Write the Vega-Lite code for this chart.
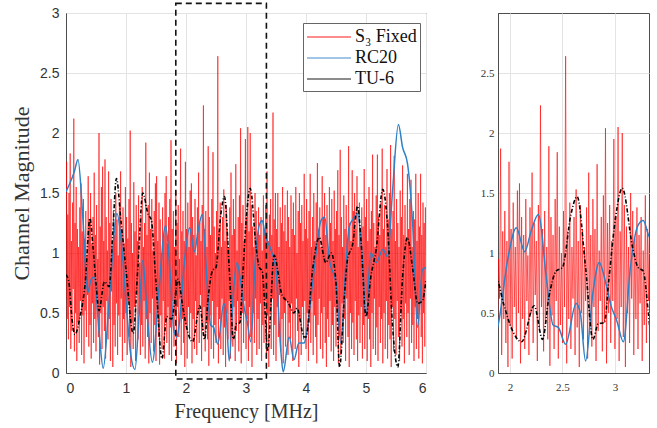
{
"$schema": "https://vega.github.io/schema/vega-lite/v6.json",
"background": "white",
"padding": {"left": 10, "top": 2, "right": 4, "bottom": 4},
"bounds": "flush",
"spacing": 72,
"config": {
  "view": {"stroke": "#4d4d4d", "strokeWidth": 1},
  "axis": {"grid": true, "gridColor": "#e3e3e3", "gridWidth": 1, "domainColor": "#4d4d4d", "ticks": false, "labelFont": "Liberation Sans", "labelColor": "#333333", "titleFont": "Liberation Serif", "titleFontWeight": "normal", "titleColor": "#333333"}
},
"datasets": {
"red": [
{"f":0,"s":0.62},{"f":0.01,"s":1.76},{"f":0.02,"s":0.45},{"f":0.03,"s":1.32},{"f":0.04,"s":0.28},{"f":0.05,"s":1.5},{"f":0.06,"s":0.55},{"f":0.07,"s":1.83},{"f":0.08,"s":0.2},{"f":0.09,"s":1.1},
{"f":0.1,"s":0.35},{"f":0.11,"s":1.42},{"f":0.12,"s":0.7},{"f":0.13,"s":2.12},{"f":0.14,"s":0.18},{"f":0.15,"s":1.25},{"f":0.16,"s":0.5},{"f":0.17,"s":1.55},{"f":0.18,"s":0.1},{"f":0.19,"s":1.2},
{"f":0.2,"s":0.42},{"f":0.21,"s":1.05},{"f":0.22,"s":0.25},{"f":0.23,"s":1.38},{"f":0.24,"s":0.6},{"f":0.25,"s":1.58},{"f":0.26,"s":0.15},{"f":0.27,"s":1.18},{"f":0.28,"s":0.48},{"f":0.29,"s":1.45},
{"f":0.3,"s":0.08},{"f":0.31,"s":1.12},{"f":0.32,"s":0.52},{"f":0.33,"s":1.35},{"f":0.34,"s":0.3},{"f":0.35,"s":0.98},{"f":0.36,"s":0.65},{"f":0.37,"s":1.64},{"f":0.38,"s":0.22},{"f":0.39,"s":1.28},
{"f":0.4,"s":0.4},{"f":0.41,"s":1.5},{"f":0.42,"s":0.12},{"f":0.43,"s":1.08},{"f":0.44,"s":0.58},{"f":0.45,"s":1.3},{"f":0.46,"s":0.25},{"f":0.47,"s":1.67},{"f":0.48,"s":0.45},{"f":0.49,"s":1.15},
{"f":0.5,"s":0.18},{"f":0.51,"s":1.4},{"f":0.52,"s":0.62},{"f":0.53,"s":0.95},{"f":0.54,"s":0.3},{"f":0.55,"s":2.0},{"f":0.56,"s":0.07},{"f":0.57,"s":1.22},{"f":0.58,"s":0.5},{"f":0.59,"s":1.55},
{"f":0.6,"s":0.2},{"f":0.61,"s":1.72},{"f":0.62,"s":0.55},{"f":0.63,"s":1.1},{"f":0.64,"s":0.35},{"f":0.65,"s":1.78},{"f":0.66,"s":0.12},{"f":0.67,"s":1.3},{"f":0.68,"s":0.6},{"f":0.69,"s":1.02},
{"f":0.7,"s":0.28},{"f":0.71,"s":1.68},{"f":0.72,"s":0.45},{"f":0.73,"s":1.25},{"f":0.74,"s":0.1},{"f":0.75,"s":1.45},{"f":0.76,"s":0.68},{"f":0.77,"s":1.05},{"f":0.78,"s":0.05},{"f":0.79,"s":1.35},
{"f":0.8,"s":0.4},{"f":0.81,"s":1.15},{"f":0.82,"s":0.22},{"f":0.83,"s":1.5},{"f":0.84,"s":0.58},{"f":0.85,"s":1.28},{"f":0.86,"s":0.15},{"f":0.87,"s":0.98},{"f":0.88,"s":0.48},{"f":0.89,"s":1.42},
{"f":0.9,"s":0.3},{"f":0.91,"s":1.68},{"f":0.92,"s":0.62},{"f":0.93,"s":1.2},{"f":0.94,"s":0.1},{"f":0.95,"s":1.38},{"f":0.96,"s":0.45},{"f":0.97,"s":1.08},{"f":0.98,"s":0.25},{"f":0.99,"s":1.55},
{"f":1.0,"s":0.5},{"f":1.01,"s":1.3},{"f":1.02,"s":0.15},{"f":1.03,"s":1.12},{"f":1.04,"s":0.6},{"f":1.05,"s":1.45},{"f":1.06,"s":0.3},{"f":1.07,"s":2.02},{"f":1.08,"s":0.05},{"f":1.09,"s":1.25},
{"f":1.1,"s":0.42},{"f":1.11,"s":1.0},{"f":1.12,"s":0.2},{"f":1.13,"s":1.59},{"f":1.14,"s":0.55},{"f":1.15,"s":1.18},{"f":1.16,"s":0.1},{"f":1.17,"s":1.4},{"f":1.18,"s":0.65},{"f":1.19,"s":1.1},
{"f":1.2,"s":0.28},{"f":1.21,"s":1.48},{"f":1.22,"s":0.5},{"f":1.23,"s":0.92},{"f":1.24,"s":0.15},{"f":1.25,"s":1.3},{"f":1.26,"s":0.4},{"f":1.27,"s":1.55},{"f":1.28,"s":0.22},{"f":1.29,"s":1.05},
{"f":1.3,"s":0.6},{"f":1.31,"s":1.25},{"f":1.32,"s":0.12},{"f":1.33,"s":1.92},{"f":1.34,"s":0.45},{"f":1.35,"s":1.15},{"f":1.36,"s":0.3},{"f":1.37,"s":1.4},{"f":1.38,"s":0.08},{"f":1.39,"s":1.67},
{"f":1.4,"s":0.5},{"f":1.41,"s":1.2},{"f":1.42,"s":0.25},{"f":1.43,"s":1.45},{"f":1.44,"s":0.62},{"f":1.45,"s":1.02},{"f":1.46,"s":0.18},{"f":1.47,"s":1.35},{"f":1.48,"s":0.4},{"f":1.49,"s":1.58},
{"f":1.5,"s":0.1},{"f":1.51,"s":1.64},{"f":1.52,"s":0.55},{"f":1.53,"s":1.1},{"f":1.54,"s":0.3},{"f":1.55,"s":1.42},{"f":1.56,"s":0.07},{"f":1.57,"s":1.28},{"f":1.58,"s":0.48},{"f":1.59,"s":1.0},
{"f":1.6,"s":0.2},{"f":1.61,"s":1.38},{"f":1.62,"s":0.6},{"f":1.63,"s":1.15},{"f":1.64,"s":0.12},{"f":1.65,"s":1.5},{"f":1.66,"s":0.42},{"f":1.67,"s":1.64},{"f":1.68,"s":0.25},{"f":1.69,"s":1.08},
{"f":1.7,"s":0.55},{"f":1.71,"s":1.3},{"f":1.72,"s":0.15},{"f":1.73,"s":1.45},{"f":1.74,"s":0.38},{"f":1.75,"s":1.94},{"f":1.76,"s":0.1},{"f":1.77,"s":1.2},{"f":1.78,"s":0.6},{"f":1.79,"s":1.35},
{"f":1.8,"s":0.22},{"f":1.81,"s":1.05},{"f":1.82,"s":0.48},{"f":1.83,"s":1.52},{"f":1.84,"s":0.08},{"f":1.85,"s":1.25},{"f":1.86,"s":0.55},{"f":1.87,"s":1.4},{"f":1.88,"s":0.3},{"f":1.89,"s":0.95},
{"f":1.9,"s":0.62},{"f":1.91,"s":1.87},{"f":1.92,"s":0.15},{"f":1.93,"s":1.18},{"f":1.94,"s":0.45},{"f":1.95,"s":1.35},{"f":1.96,"s":0.25},{"f":1.97,"s":1.1},{"f":1.98,"s":0.05},{"f":1.99,"s":1.76},
{"f":2.0,"s":0.4},{"f":2.01,"s":1.2},{"f":2.02,"s":0.12},{"f":2.03,"s":1.42},{"f":2.04,"s":0.55},{"f":2.05,"s":1.05},{"f":2.06,"s":0.28},{"f":2.07,"s":1.52},{"f":2.08,"s":0.5},{"f":2.09,"s":1.58},
{"f":2.1,"s":0.08},{"f":2.11,"s":1.3},{"f":2.12,"s":0.45},{"f":2.13,"s":1.15},{"f":2.14,"s":0.2},{"f":2.15,"s":1.45},{"f":2.16,"s":0.6},{"f":2.17,"s":0.98},{"f":2.18,"s":0.15},{"f":2.19,"s":1.38},
{"f":2.2,"s":0.5},{"f":2.21,"s":1.67},{"f":2.22,"s":0.25},{"f":2.23,"s":1.25},{"f":2.24,"s":0.65},{"f":2.25,"s":1.1},{"f":2.26,"s":0.1},{"f":2.27,"s":1.4},{"f":2.28,"s":0.35},{"f":2.29,"s":2.23},
{"f":2.3,"s":0.55},{"f":2.31,"s":1.2},{"f":2.32,"s":0.18},{"f":2.33,"s":1.35},{"f":2.34,"s":0.42},{"f":2.35,"s":1.05},{"f":2.36,"s":0.28},{"f":2.37,"s":1.89},{"f":2.38,"s":0.06},{"f":2.39,"s":1.3},
{"f":2.4,"s":0.48},{"f":2.41,"s":1.15},{"f":2.42,"s":0.2},{"f":2.43,"s":1.45},{"f":2.44,"s":0.6},{"f":2.45,"s":1.84},{"f":2.46,"s":0.12},{"f":2.47,"s":1.22},{"f":2.48,"s":0.4},{"f":2.49,"s":1.0},
{"f":2.5,"s":0.25},{"f":2.51,"s":1.35},{"f":2.52,"s":0.55},{"f":2.53,"s":2.64},{"f":2.54,"s":0.08},{"f":2.55,"s":1.18},{"f":2.56,"s":0.45},{"f":2.57,"s":1.42},{"f":2.58,"s":0.2},{"f":2.59,"s":1.05},
{"f":2.6,"s":0.62},{"f":2.61,"s":1.3},{"f":2.62,"s":0.15},{"f":2.63,"s":1.53},{"f":2.64,"s":0.38},{"f":2.65,"s":1.1},{"f":2.66,"s":0.05},{"f":2.67,"s":1.4},{"f":2.68,"s":0.5},{"f":2.69,"s":1.2},
{"f":2.7,"s":0.28},{"f":2.71,"s":1.05},{"f":2.72,"s":0.6},{"f":2.73,"s":1.38},{"f":2.74,"s":0.12},{"f":2.75,"s":1.67},{"f":2.76,"s":0.45},{"f":2.77,"s":1.15},{"f":2.78,"s":0.22},{"f":2.79,"s":1.45},
{"f":2.8,"s":0.55},{"f":2.81,"s":1.2},{"f":2.82,"s":0.1},{"f":2.83,"s":1.74},{"f":2.84,"s":0.35},{"f":2.85,"s":1.02},{"f":2.86,"s":0.6},{"f":2.87,"s":1.3},{"f":2.88,"s":0.18},{"f":2.89,"s":1.48},
{"f":2.9,"s":0.42},{"f":2.91,"s":2.04},{"f":2.92,"s":0.08},{"f":2.93,"s":1.25},{"f":2.94,"s":0.5},{"f":2.95,"s":1.4},{"f":2.96,"s":0.25},{"f":2.97,"s":1.1},{"f":2.98,"s":0.6},{"f":2.99,"s":1.95},
{"f":3.0,"s":0.2},{"f":3.01,"s":1.3},{"f":3.02,"s":0.45},{"f":3.03,"s":2.05},{"f":3.04,"s":0.1},{"f":3.05,"s":1.18},{"f":3.06,"s":0.55},{"f":3.07,"s":2.0},{"f":3.08,"s":0.3},{"f":3.09,"s":1.4},
{"f":3.1,"s":0.05},{"f":3.11,"s":1.22},{"f":3.12,"s":0.5},{"f":3.13,"s":1.05},{"f":3.14,"s":0.25},{"f":3.15,"s":1.5},{"f":3.16,"s":0.62},{"f":3.17,"s":1.35},{"f":3.18,"s":0.15},{"f":3.19,"s":1.12},
{"f":3.2,"s":0.45},{"f":3.21,"s":1.38},{"f":3.22,"s":0.2},{"f":3.23,"s":1.15},{"f":3.24,"s":0.58},{"f":3.25,"s":1.3},{"f":3.26,"s":0.1},{"f":3.27,"s":1.02},{"f":3.28,"s":0.4},{"f":3.29,"s":1.48},
{"f":3.3,"s":0.25},{"f":3.31,"s":1.2},{"f":3.32,"s":0.6},{"f":3.33,"s":1.4},{"f":3.34,"s":0.12},{"f":3.35,"s":1.68},{"f":3.36,"s":0.48},{"f":3.37,"s":1.1},{"f":3.38,"s":0.05},{"f":3.39,"s":1.32},
{"f":3.4,"s":0.5},{"f":3.41,"s":1.45},{"f":3.42,"s":0.2},{"f":3.43,"s":1.15},{"f":3.44,"s":0.62},{"f":3.45,"s":2.17},{"f":3.46,"s":0.15},{"f":3.47,"s":1.28},{"f":3.48,"s":0.4},{"f":3.49,"s":1.5},
{"f":3.5,"s":0.1},{"f":3.51,"s":1.2},{"f":3.52,"s":0.55},{"f":3.53,"s":1.5},{"f":3.54,"s":0.3},{"f":3.55,"s":1.05},{"f":3.56,"s":0.65},{"f":3.57,"s":1.38},{"f":3.58,"s":0.18},{"f":3.59,"s":1.25},
{"f":3.6,"s":0.45},{"f":3.61,"s":1.55},{"f":3.62,"s":0.08},{"f":3.63,"s":1.18},{"f":3.64,"s":0.5},{"f":3.65,"s":1.4},{"f":3.66,"s":0.22},{"f":3.67,"s":1.1},{"f":3.68,"s":0.6},{"f":3.69,"s":1.52},
{"f":3.7,"s":0.15},{"f":3.71,"s":1.3},{"f":3.72,"s":0.42},{"f":3.73,"s":1.05},{"f":3.74,"s":0.28},{"f":3.75,"s":1.48},{"f":3.76,"s":0.58},{"f":3.77,"s":1.2},{"f":3.78,"s":0.1},{"f":3.79,"s":1.42},
{"f":3.8,"s":0.5},{"f":3.81,"s":1.15},{"f":3.82,"s":0.2},{"f":3.83,"s":1.55},{"f":3.84,"s":0.62},{"f":3.85,"s":1.0},{"f":3.86,"s":0.35},{"f":3.87,"s":1.35},{"f":3.88,"s":0.05},{"f":3.89,"s":1.5},
{"f":3.9,"s":0.45},{"f":3.91,"s":1.25},{"f":3.92,"s":0.15},{"f":3.93,"s":1.4},{"f":3.94,"s":0.55},{"f":3.95,"s":1.1},{"f":3.96,"s":0.28},{"f":3.97,"s":1.66},{"f":3.98,"s":0.6},{"f":3.99,"s":1.2},
{"f":4.0,"s":0.2},{"f":4.01,"s":1.45},{"f":4.02,"s":0.5},{"f":4.03,"s":1.12},{"f":4.04,"s":0.1},{"f":4.05,"s":1.35},{"f":4.06,"s":0.42},{"f":4.07,"s":1.66},{"f":4.08,"s":0.25},{"f":4.09,"s":1.05},
{"f":4.1,"s":0.6},{"f":4.11,"s":1.3},{"f":4.12,"s":0.15},{"f":4.13,"s":1.5},{"f":4.14,"s":0.48},{"f":4.15,"s":1.1},{"f":4.16,"s":0.3},{"f":4.17,"s":1.42},{"f":4.18,"s":0.08},{"f":4.19,"s":1.75},
{"f":4.2,"s":0.4},{"f":4.21,"s":1.2},{"f":4.22,"s":0.62},{"f":4.23,"s":1.38},{"f":4.24,"s":0.2},{"f":4.25,"s":1.05},{"f":4.26,"s":0.5},{"f":4.27,"s":1.64},{"f":4.28,"s":0.12},{"f":4.29,"s":1.3},
{"f":4.3,"s":0.55},{"f":4.31,"s":1.5},{"f":4.32,"s":0.25},{"f":4.33,"s":1.15},{"f":4.34,"s":0.05},{"f":4.35,"s":1.4},{"f":4.36,"s":0.45},{"f":4.37,"s":1.02},{"f":4.38,"s":0.3},{"f":4.39,"s":1.55},
{"f":4.4,"s":0.6},{"f":4.41,"s":1.25},{"f":4.42,"s":0.18},{"f":4.43,"s":1.45},{"f":4.44,"s":0.4},{"f":4.45,"s":1.1},{"f":4.46,"s":0.1},{"f":4.47,"s":1.52},{"f":4.48,"s":0.55},{"f":4.49,"s":1.2},
{"f":4.5,"s":0.22},{"f":4.51,"s":1.35},{"f":4.52,"s":0.5},{"f":4.53,"s":1.69},{"f":4.54,"s":0.08},{"f":4.55,"s":1.15},{"f":4.56,"s":0.38},{"f":4.57,"s":1.86},{"f":4.58,"s":0.15},{"f":4.59,"s":1.3},
{"f":4.6,"s":0.58},{"f":4.61,"s":1.05},{"f":4.62,"s":0.25},{"f":4.63,"s":1.48},{"f":4.64,"s":0.45},{"f":4.65,"s":1.2},{"f":4.66,"s":0.1},{"f":4.67,"s":1.4},{"f":4.68,"s":0.62},{"f":4.69,"s":1.12},
{"f":4.7,"s":0.3},{"f":4.71,"s":1.89},{"f":4.72,"s":0.05},{"f":4.73,"s":1.25},{"f":4.74,"s":0.5},{"f":4.75,"s":1.1},{"f":4.76,"s":0.2},{"f":4.77,"s":1.69},{"f":4.78,"s":0.42},{"f":4.79,"s":1.35},
{"f":4.8,"s":0.15},{"f":4.81,"s":1.5},{"f":4.82,"s":0.6},{"f":4.83,"s":1.2},{"f":4.84,"s":0.28},{"f":4.85,"s":1.64},{"f":4.86,"s":0.1},{"f":4.87,"s":1.05},{"f":4.88,"s":0.48},{"f":4.89,"s":1.42},
{"f":4.9,"s":0.25},{"f":4.91,"s":1.15},{"f":4.92,"s":0.55},{"f":4.93,"s":1.38},{"f":4.94,"s":0.12},{"f":4.95,"s":1.22},{"f":4.96,"s":0.4},{"f":4.97,"s":1.7},{"f":4.98,"s":0.2},{"f":4.99,"s":1.3},
{"f":5.0,"s":0.6},{"f":5.01,"s":1.45},{"f":5.02,"s":0.1},{"f":5.03,"s":1.1},{"f":5.04,"s":0.45},{"f":5.05,"s":1.55},{"f":5.06,"s":0.28},{"f":5.07,"s":1.2},{"f":5.08,"s":0.05},{"f":5.09,"s":1.35},
{"f":5.1,"s":0.5},{"f":5.11,"s":1.82},{"f":5.12,"s":0.2},{"f":5.13,"s":1.25},{"f":5.14,"s":0.62},{"f":5.15,"s":1.05},{"f":5.16,"s":0.15},{"f":5.17,"s":1.48},{"f":5.18,"s":0.38},{"f":5.19,"s":1.82},
{"f":5.2,"s":0.1},{"f":5.21,"s":1.3},{"f":5.22,"s":0.55},{"f":5.23,"s":1.15},{"f":5.24,"s":0.25},{"f":5.25,"s":1.42},{"f":5.26,"s":0.45},{"f":5.27,"s":1.87},{"f":5.28,"s":0.08},{"f":5.29,"s":1.2},
{"f":5.3,"s":0.5},{"f":5.31,"s":1.4},{"f":5.32,"s":0.2},{"f":5.33,"s":1.05},{"f":5.34,"s":0.6},{"f":5.35,"s":1.7},{"f":5.36,"s":0.12},{"f":5.37,"s":1.28},{"f":5.38,"s":0.4},{"f":5.39,"s":1.5},
{"f":5.4,"s":0.28},{"f":5.41,"s":1.9},{"f":5.42,"s":0.05},{"f":5.43,"s":1.2},{"f":5.44,"s":0.55},{"f":5.45,"s":1.35},{"f":5.46,"s":0.18},{"f":5.47,"s":1.81},{"f":5.48,"s":0.45},{"f":5.49,"s":1.1},
{"f":5.5,"s":0.15},{"f":5.51,"s":1.45},{"f":5.52,"s":0.6},{"f":5.53,"s":1.25},{"f":5.54,"s":0.3},{"f":5.55,"s":1.05},{"f":5.56,"s":0.1},{"f":5.57,"s":1.52},{"f":5.58,"s":0.5},{"f":5.59,"s":1.3},
{"f":5.6,"s":0.22},{"f":5.61,"s":1.73},{"f":5.62,"s":0.45},{"f":5.63,"s":1.15},{"f":5.64,"s":0.08},{"f":5.65,"s":1.4},{"f":5.66,"s":0.58},{"f":5.67,"s":1.1},{"f":5.68,"s":0.3},{"f":5.69,"s":1.66},
{"f":5.7,"s":0.5},{"f":5.71,"s":1.2},{"f":5.72,"s":0.15},{"f":5.73,"s":1.45},{"f":5.74,"s":0.62},{"f":5.75,"s":1.61},{"f":5.76,"s":0.25},{"f":5.77,"s":1.05},{"f":5.78,"s":0.4},{"f":5.79,"s":1.35},
{"f":5.8,"s":0.1},{"f":5.81,"s":1.28},{"f":5.82,"s":0.55},{"f":5.83,"s":1.66},{"f":5.84,"s":0.2},{"f":5.85,"s":1.1},{"f":5.86,"s":0.45},{"f":5.87,"s":1.5},{"f":5.88,"s":0.12},{"f":5.89,"s":1.22},
{"f":5.9,"s":0.6},{"f":5.91,"s":1.66},{"f":5.92,"s":0.3},{"f":5.93,"s":1.15},{"f":5.94,"s":0.08},{"f":5.95,"s":1.42},{"f":5.96,"s":0.5},{"f":5.97,"s":1.25},{"f":5.98,"s":0.22},{"f":5.99,"s":1.38},
{"f":6.0,"s":0.7}
],
"blue": [
{"f":0,"v":1.51},{"f":0.08,"v":1.6},{"f":0.14,"v":1.68},{"f":0.2,"v":1.78},{"f":0.28,"v":1.3},{"f":0.36,"v":0.67},{"f":0.42,"v":0.78},{"f":0.47,"v":0.8},{"f":0.55,"v":0.35},{"f":0.62,"v":0.04},
{"f":0.72,"v":0.6},{"f":0.85,"v":1.33},{"f":0.92,"v":1.1},{"f":1.0,"v":0.6},{"f":1.08,"v":0.15},{"f":1.15,"v":0.03},{"f":1.22,"v":0.5},{"f":1.28,"v":0.94},{"f":1.35,"v":0.5},{"f":1.44,"v":0.09},
{"f":1.55,"v":0.7},{"f":1.66,"v":1.23},{"f":1.74,"v":0.8},{"f":1.8,"v":0.35},{"f":1.85,"v":0.3},{"f":1.886,"v":0.4},{"f":1.98,"v":0.96},{"f":2.06,"v":1.21},{"f":2.14,"v":1.01},{"f":2.2,"v":1.18},
{"f":2.27,"v":1.32},{"f":2.35,"v":0.76},{"f":2.41,"v":0.4},{"f":2.46,"v":0.38},{"f":2.53,"v":0.24},{"f":2.63,"v":0.58},{"f":2.67,"v":0.5},{"f":2.72,"v":0.1},{"f":2.79,"v":0.67},{"f":2.85,"v":0.92},
{"f":2.91,"v":0.76},{"f":2.96,"v":0.57},{"f":3.02,"v":0.43},{"f":3.08,"v":0.26},{"f":3.15,"v":0.9},{"f":3.22,"v":1.23},{"f":3.27,"v":1.27},{"f":3.32,"v":1.15},{"f":3.42,"v":1.02},{"f":3.5,"v":0.86},
{"f":3.58,"v":0.19},{"f":3.62,"v":0.01},{"f":3.72,"v":0.3},{"f":3.8,"v":0.11},{"f":3.88,"v":0.25},{"f":3.97,"v":0.25},{"f":4.0,"v":0.3},{"f":4.11,"v":0.75},{"f":4.25,"v":1.27},{"f":4.31,"v":1.3},
{"f":4.39,"v":0.94},{"f":4.5,"v":0.75},{"f":4.58,"v":0.25},{"f":4.67,"v":0.94},{"f":4.72,"v":1.22},{"f":4.81,"v":1.3},{"f":4.86,"v":1.33},{"f":4.94,"v":0.94},{"f":5.0,"v":0.47},{"f":5.08,"v":1.0},
{"f":5.17,"v":0.92},{"f":5.28,"v":1.03},{"f":5.36,"v":0.97},{"f":5.44,"v":1.5},{"f":5.54,"v":2.07},{"f":5.61,"v":1.88},{"f":5.69,"v":1.75},{"f":5.78,"v":1.22},{"f":5.86,"v":0.38},{"f":5.94,"v":0.86},
{"f":6.0,"v":0.88}
],
"black": [
{"f":0,"v":0.82},{"f":0.05,"v":0.75},{"f":0.1,"v":0.45},{"f":0.15,"v":0.32},{"f":0.23,"v":0.46},{"f":0.32,"v":0.75},{"f":0.4,"v":1.29},{"f":0.45,"v":1.05},{"f":0.5,"v":0.75},{"f":0.55,"v":0.52},
{"f":0.64,"v":0.76},{"f":0.72,"v":0.72},{"f":0.78,"v":1.17},{"f":0.84,"v":1.62},{"f":0.92,"v":1.25},{"f":1.0,"v":0.86},{"f":1.12,"v":0.33},{"f":1.2,"v":0.9},{"f":1.28,"v":1.5},{"f":1.37,"v":1.32},
{"f":1.42,"v":1.28},{"f":1.5,"v":0.75},{"f":1.6,"v":0.12},{"f":1.68,"v":0.47},{"f":1.76,"v":0.45},{"f":1.87,"v":0.78},{"f":1.94,"v":0.57},{"f":2.01,"v":0.38},{"f":2.11,"v":0.26},{"f":2.23,"v":0.56},
{"f":2.31,"v":0.28},{"f":2.37,"v":0.63},{"f":2.44,"v":0.85},{"f":2.5,"v":0.88},{"f":2.58,"v":1.32},{"f":2.64,"v":1.47},{"f":2.72,"v":0.88},{"f":2.79,"v":0.28},{"f":2.84,"v":0.41},{"f":2.9,"v":0.42},
{"f":2.94,"v":0.76},{"f":3.01,"v":1.32},{"f":3.07,"v":1.54},{"f":3.17,"v":1.04},{"f":3.22,"v":0.88},{"f":3.27,"v":0.85},{"f":3.32,"v":0.49},{"f":3.36,"v":0.18},{"f":3.47,"v":0.98},{"f":3.6,"v":0.65},
{"f":3.7,"v":0.59},{"f":3.8,"v":0.5},{"f":3.85,"v":0.54},{"f":3.97,"v":0.3},{"f":4.0,"v":0.3},{"f":4.11,"v":0.86},{"f":4.22,"v":1.13},{"f":4.33,"v":0.92},{"f":4.42,"v":1.0},{"f":4.5,"v":0.75},
{"f":4.56,"v":0.05},{"f":4.64,"v":0.64},{"f":4.69,"v":0.94},{"f":4.78,"v":1.08},{"f":4.86,"v":1.39},{"f":4.92,"v":1.08},{"f":5.0,"v":0.47},{"f":5.08,"v":0.8},{"f":5.17,"v":1.03},{"f":5.28,"v":1.53},
{"f":5.36,"v":1.22},{"f":5.44,"v":0.41},{"f":5.53,"v":0.05},{"f":5.61,"v":0.8},{"f":5.69,"v":1.13},{"f":5.78,"v":0.86},{"f":5.86,"v":0.58},{"f":5.94,"v":0.6},{"f":6.0,"v":0.78}
],
"box": [{"x1": 1.83, "x2": 3.34, "y1": -0.05, "y2": 3.08}]
},
"resolve": {"scale": {"color": "independent", "x": "independent", "y": "independent"}, "legend": {"color": "independent"}},
"hconcat": [
{
  "width": 360, "height": 360,
  "encoding": {
    "x": {"type": "quantitative", "scale": {"domain": [0, 6], "nice": false, "zero": false},
          "axis": {"values": [0,1,2,3,4,5,6], "format": "~g", "labelFontSize": 14, "labelPadding": 8, "titleFontSize": 20, "titlePadding": 6}, "title": "Frequency [MHz]"},
    "y": {"type": "quantitative", "scale": {"domain": [0, 3], "nice": false},
          "axis": {"values": [0,0.5,1,1.5,2,2.5,3], "format": "~g", "labelFontSize": 14, "labelPadding": 7, "titleFontSize": 22, "titlePadding": 6}, "title": "Channel Magnitude"}
  },
  "layer": [
    {"data": {"name": "red"}, "mark": {"type": "line", "strokeWidth": 1, "opacity": 0.6, "clip": true},
     "encoding": {"x": {"field": "f", "type": "quantitative"}, "y": {"field": "s", "type": "quantitative"},
       "color": {"datum": "S₃ Fixed", "scale": {"domain": ["S₃ Fixed", "RC20", "TU-6"], "range": ["#ff0000", "#2f80c4", "#000000"]},
         "legend": {"orient": "none", "legendX": 237, "legendY": 10, "title": null, "symbolType": "M-2.2,0H2.2", "symbolSize": 400, "symbolStrokeWidth": 1.5,
           "labelFont": "Liberation Serif", "labelFontSize": 18, "labelColor": "#111111", "strokeColor": "#666666", "fillColor": "white", "padding": 3, "rowPadding": 1, "labelOffset": 15, "symbolOffset": 12,
           "encode": {"labels": {"fontStyle": {"condition": {"test": "datum.index === 0 || indexof(datum.label, 'Fixed') >= 0", "value": "italic"}, "value": "normal"}},
                      "symbols": {"strokeDash": {"condition": {"test": "datum.index === 2", "value": [4,2,1,2]}, "value": [1,0]},
                                  "opacity": {"condition": {"test": "datum.index === 0", "value": 0.55}, "value": 1}}}}}}},
    {"data": {"name": "blue"}, "mark": {"type": "line", "strokeWidth": 1.5, "interpolate": "monotone", "clip": true},
     "encoding": {"x": {"field": "f", "type": "quantitative"}, "y": {"field": "v", "type": "quantitative"}, "color": {"datum": "RC20"}}},
    {"data": {"name": "black"}, "mark": {"type": "line", "strokeWidth": 1.6, "interpolate": "monotone", "strokeDash": [4,2,1,2], "clip": true},
     "encoding": {"x": {"field": "f", "type": "quantitative"}, "y": {"field": "v", "type": "quantitative"}, "color": {"datum": "TU-6"}}},
    {"data": {"name": "box"}, "mark": {"type": "rect", "fill": "white", "fillOpacity": 0, "stroke": "#111111", "strokeWidth": 1.6, "strokeDash": [6,4], "clip": false},
     "encoding": {"x": {"field": "x1", "type": "quantitative"}, "x2": {"field": "x2"}, "y": {"field": "y1", "type": "quantitative"}, "y2": {"field": "y2"}}}
  ]
},
{
  "width": 151, "height": 360,
  "encoding": {
    "x": {"type": "quantitative", "scale": {"domain": [1.885, 3.325], "nice": false, "zero": false},
          "axis": {"values": [2, 2.5, 3], "format": "~g", "labelFontSize": 11, "labelFont": "Liberation Sans Narrow", "labelPadding": 8, "title": null}},
    "y": {"type": "quantitative", "scale": {"domain": [0, 3], "nice": false},
          "axis": {"values": [0,0.5,1,1.5,2,2.5], "format": "~g", "labelFontSize": 11, "labelFont": "Liberation Sans Narrow", "labelPadding": 4, "title": null}}
  },
  "layer": [
    {"data": {"name": "red"}, "mark": {"type": "line", "strokeWidth": 1, "opacity": 0.6, "color": "#ff0000", "clip": true},
     "encoding": {"x": {"field": "f", "type": "quantitative"}, "y": {"field": "s", "type": "quantitative"}}},
    {"data": {"name": "blue"}, "mark": {"type": "line", "strokeWidth": 1.5, "interpolate": "monotone", "color": "#2f80c4", "clip": true},
     "encoding": {"x": {"field": "f", "type": "quantitative"}, "y": {"field": "v", "type": "quantitative"}}},
    {"data": {"name": "black"}, "mark": {"type": "line", "strokeWidth": 1.6, "interpolate": "monotone", "strokeDash": [4,2,1,2], "color": "#000000", "clip": true},
     "encoding": {"x": {"field": "f", "type": "quantitative"}, "y": {"field": "v", "type": "quantitative"}}}
  ]
}
]
}
